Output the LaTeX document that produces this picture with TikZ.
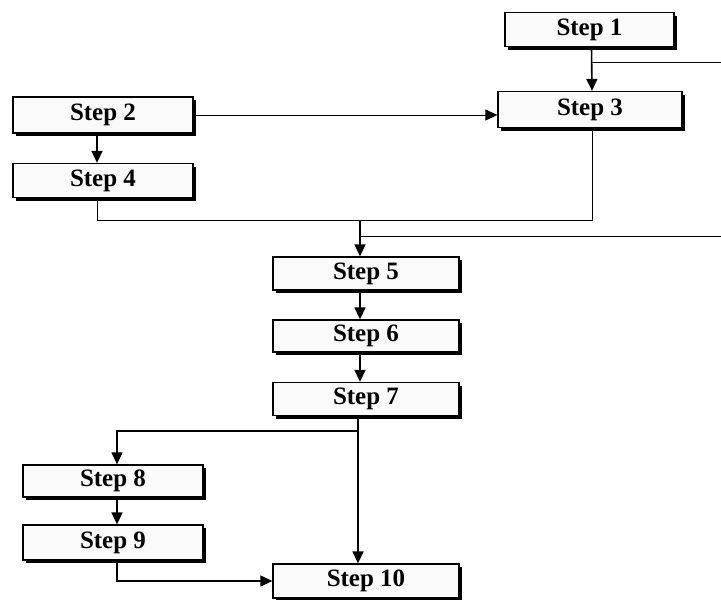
\documentclass[tikz,border=0pt]{standalone}
\usepackage{fontspec}
\setmainfont{Liberation Serif}
\usepackage{tikz}
\usetikzlibrary{arrows.meta, positioning, shadows}

\begin{document}
\begin{tikzpicture}[
  x=1pt, y=-1pt,
  every node/.style={font=\bfseries\fontsize{25}{27}\selectfont},
  stepbox/.style={rectangle, draw=black, line width=1.3pt, fill=gray!4, inner sep=0pt,
    minimum height=34pt,
    drop shadow={shadow xshift=2.5pt, shadow yshift=-3pt, fill=black, opacity=1}},
  arrow/.style={-{Triangle[length=12pt, width=11pt]}, line width=1.6pt},
  link/.style={line width=1pt}
]
\useasboundingbox (0,0) rectangle (721,600);

% Nodes
\node[stepbox, minimum width=169pt] (s1) at (589.5,29.5) {Step 1};
\node[stepbox, minimum width=184pt, minimum height=36pt] (s3) at (590,109.5) {Step 3};
\node[stepbox, minimum width=180pt, minimum height=36pt] (s2) at (103,115) {Step 2};
\node[stepbox, minimum width=180pt] (s4) at (103,180.5) {Step 4};
\node[stepbox, minimum width=186pt, minimum height=33pt] (s5) at (366,273.5) {Step 5};
\node[stepbox, minimum width=186pt, minimum height=32pt] (s6) at (366,336) {Step 6};
\node[stepbox, minimum width=186pt, minimum height=33pt] (s7) at (366,399) {Step 7};
\node[stepbox, minimum width=180pt, minimum height=32pt] (s8) at (113,481) {Step 8};
\node[stepbox, minimum width=180pt, minimum height=35pt] (s9) at (113,542.5) {Step 9};
\node[stepbox, minimum width=186pt] (s10) at (366,581) {Step 10};

% Junctions and open ends
\coordinate (j1) at (592,62);
\coordinate (out1) at (721,62);
\coordinate (m1) at (360,220);
\coordinate (j2) at (360,236);
\coordinate (out2) at (721,236);
\coordinate (m2) at (358,431);

% Arrows
\draw[arrow] ([xshift=2pt]s1.south) -- ([xshift=2pt]s3.north);
\draw[link] (j1) -- (out1);
\draw[arrow, line width=1pt] (s2.east) -- (s3.west |- s2.east);
\draw[arrow] ([xshift=-6pt]s2.south) -- ([xshift=-6pt]s4.north);
\draw[link] ([xshift=-6pt]s4.south) |- (m1);
\draw[link] ([xshift=2pt]s3.south) |- (m1);
\draw[arrow] (m1) -- (s5.north -| m1);
\draw[link] (j2) -- (out2);
\draw[arrow] ([xshift=-6pt]s5.south) -- ([xshift=-6pt]s6.north);
\draw[arrow] ([xshift=-6pt]s6.south) -- ([xshift=-6pt]s7.north);
\draw[arrow] ([xshift=-8pt]s7.south) -- ([xshift=-8pt]s10.north);
\draw[arrow, line width=1.2pt] (m2) -| ([xshift=4pt]s8.north);
\draw[arrow] ([xshift=4pt]s8.south) -- ([xshift=4pt]s9.north);
\draw[arrow, line width=1.2pt] ([xshift=4pt]s9.south) |- (s10.west);

\end{tikzpicture}
\end{document}
